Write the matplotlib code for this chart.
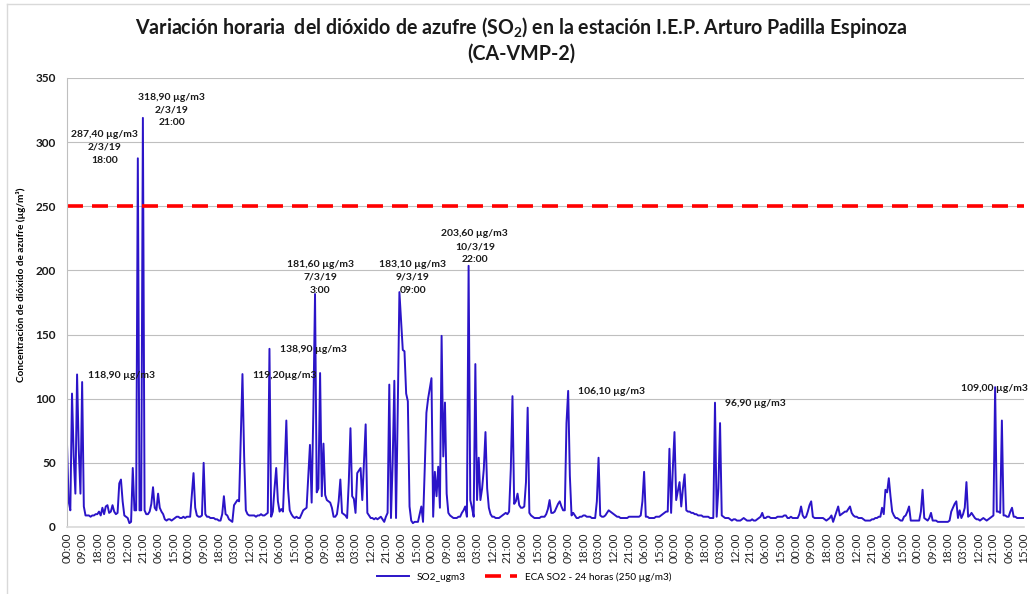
import pandas as pd
import matplotlib
matplotlib.use("Agg")
import matplotlib.pyplot as plt
from matplotlib.lines import Line2D

plt.rcParams['font.family'] = ['Lato', 'DejaVu Sans']
plt.rcParams['mathtext.fontset'] = 'custom'
plt.rcParams['mathtext.rm'] = 'Lato:bold'
plt.rcParams['lines.scale_dashes'] = False

# hourly SO2 (ug/m3), one list per day, 1-24 March 2019
d01 = [66, 20, 13, 104, 55, 26, 118.9, 60, 26, 113, 16, 9, 9, 9, 8, 9, 9, 10, 10, 12, 9, 15, 10, 16]
d02 = [17, 11, 12, 17, 12, 10, 11, 34, 37, 20, 9, 8, 7, 3, 4, 46, 13, 13, 287.4, 13, 13, 318.9, 13, 10]
d03 = [10, 12, 18, 31, 15, 13, 26, 15, 12, 10, 6, 5, 6, 6, 5, 6, 7, 8, 8, 7, 7, 8, 7, 8]
d04 = [8, 8, 25, 42, 15, 9, 8, 8, 9, 50, 10, 8, 8, 7, 7, 7, 6, 6, 5, 5, 10, 24, 10, 9]
d05 = [6, 5, 4, 17, 19, 21, 20, 70, 119.2, 55, 13, 10, 9, 9, 9, 9, 8, 9, 9, 10, 9, 9, 10, 11]
d06 = [138.9, 8, 12, 30, 46, 20, 12, 14, 12, 45, 83, 30, 13, 10, 8, 7, 8, 7, 7, 10, 13, 14, 15, 40]
d07 = [64, 19, 90, 181.6, 27, 30, 120, 24, 65, 25, 21, 20, 19, 15, 8, 8, 10, 20, 37, 11, 10, 9, 7, 35]
d08 = [77, 24, 22, 11, 42, 44, 46, 21, 50, 80, 11, 9, 7, 7, 6, 7, 6, 7, 8, 6, 4, 8, 11, 111]
d09 = [7, 50, 114, 7, 90, 183.1, 160, 138, 137, 104, 98, 16, 5, 3, 4, 4, 4, 10, 16, 4, 45, 89, 100, 108]
d10 = [116, 8, 43, 24, 47, 15, 149, 55, 97, 26, 11, 9, 8, 7, 7, 7, 8, 8, 11, 13, 16, 8, 203.6, 21]
d11 = [15, 8, 127, 21, 54, 21, 30, 45, 74, 30, 15, 10, 8, 8, 7, 7, 7, 8, 9, 10, 11, 10, 12, 45]
d12 = [102, 18, 20, 26, 17, 15, 15, 16, 35, 93, 11, 9, 8, 7, 7, 7, 7, 8, 8, 8, 10, 14, 21, 11]
d13 = [11, 12, 15, 18, 20, 16, 13, 13, 81, 106.1, 40, 9, 11, 9, 7, 7, 8, 8, 9, 9, 8, 8, 8, 7]
d14 = [7, 7, 20, 54, 9, 8, 8, 9, 11, 13, 12, 11, 10, 9, 8, 8, 7, 7, 7, 7, 7, 8, 8, 8]
d15 = [8, 8, 8, 8, 9, 20, 43, 8, 8, 7, 7, 7, 7, 8, 8, 8, 9, 10, 11, 12, 12, 61, 11, 45]
d16 = [74, 21, 28, 35, 16, 30, 41, 13, 12, 12, 11, 11, 10, 10, 9, 9, 9, 8, 8, 8, 8, 7, 7, 7]
d17 = [96.9, 8, 30, 81, 9, 8, 7, 7, 7, 6, 5, 6, 6, 5, 5, 5, 6, 7, 6, 5, 5, 5, 6, 5]
d18 = [5, 6, 7, 8, 11, 7, 7, 8, 8, 7, 7, 7, 7, 8, 8, 8, 8, 9, 9, 7, 7, 8, 7, 7]
d19 = [7, 7, 10, 16, 9, 7, 8, 12, 17, 20, 8, 7, 7, 7, 7, 7, 7, 6, 5, 6, 7, 9, 4, 8]
d20 = [12, 16, 9, 10, 11, 12, 12, 14, 16, 11, 9, 8, 8, 7, 7, 7, 6, 5, 5, 5, 5, 6, 6, 7]
d21 = [7, 8, 8, 15, 10, 29, 27, 38, 24, 12, 9, 7, 7, 6, 5, 5, 8, 9, 12, 16, 5, 5, 5, 5]
d22 = [5, 5, 12, 29, 7, 6, 5, 7, 11, 5, 5, 5, 4, 4, 4, 4, 4, 4, 4, 5, 12, 15, 18, 20]
d23 = [7, 13, 7, 10, 15, 35, 8, 9, 11, 9, 7, 6, 6, 5, 6, 7, 6, 5, 6, 7, 8, 9, 109, 12]
d24 = [12, 11, 83, 9, 9, 8, 8, 12, 15, 8, 8, 7, 7, 7, 7, 7]

so2 = (d01 + d02 + d03 + d04 + d05 + d06 + d07 + d08 + d09 + d10 + d11 + d12
       + d13 + d14 + d15 + d16 + d17 + d18 + d19 + d20 + d21 + d22 + d23 + d24)
times = pd.date_range("2019-03-01 00:00", periods=len(so2), freq="h")
eca_limit = 250

# peak labels: (hour index, value, text, alignment)
notes = [
    (22.5, 296, "287,40 µg/m3\n2/3/19\n18:00", "center"),
    (62.2, 325, "318,90 µg/m3\n2/3/19\n21:00", "center"),
    (12.3, 118, "118,90 µg/m3", "left"),
    (110.0, 118, "119,20µg/m3", "left"),
    (126.2, 138.5, "138,90 µg/m3", "left"),
    (150.2, 194.6, "181,60 µg/m3\n7/3/19\n3:00", "center"),
    (205.0, 194.5, "183,10 µg/m3\n9/3/19\n09:00", "center"),
    (241.7, 218.4, "203,60 µg/m3\n10/3/19\n22:00", "center"),
    (302.9, 105.5, "106,10 µg/m3", "left"),
    (389.8, 96, "96,90 µg/m3", "left"),
    (529.5, 108, "109,00 µg/m3", "left"),
]


def create_graph():
    fig, ax = plt.subplots(figsize=(10.3, 5.94), dpi=100)
    fig.subplots_adjust(left=0.065, right=0.994, bottom=0.1128, top=0.8687)

    x = list(range(len(so2)))
    ax.plot(x, so2, color='#2B14C8', lw=1.4, label='SO2_ugm3')
    ax.plot(x, [eca_limit] * len(x), color='#FF0000', lw=2.6, dashes=(11.5, 6.5),
            label='ECA SO2 - 24 horas (250 µg/m3)')

    ax.set_xlim(0, len(so2) - 1)
    ax.set_ylim(0, 350)
    ax.set_yticks(range(0, 351, 50))
    ax.set_xticks(x[::9])
    ax.set_xticklabels(times[::9].strftime('%H:%M'), rotation=90, fontsize=8.5, color='#262626')
    for lab in ax.get_yticklabels():
        lab.set_fontweight('bold')
        lab.set_fontsize(8.5)
        lab.set_color('#1A1A1A')
    ax.tick_params(axis='y', length=0, pad=8)
    ax.tick_params(axis='x', length=0, pad=4)

    ax.yaxis.grid(True, color='#BFBFBF', lw=0.8)
    ax.set_axisbelow(True)
    for s in ['top', 'right']:
        ax.spines[s].set_visible(False)
    ax.spines['left'].set_color('#BFBFBF')
    ax.spines['bottom'].set_color('#D9D9D9')
    ax.spines['bottom'].set_linewidth(1.2)

    ax.set_ylabel('Concentración de dióxido de azufre (µg/m³)', fontsize=7.2, fontweight='bold')
    ax.yaxis.set_label_coords(-0.043, 0.54)

    for hx, val, txt, ha in notes:
        ax.text(hx, val, txt, ha=ha, va='center', fontsize=7.5, fontweight='bold',
                color='#1A1A1A', linespacing=1.55, clip_on=False)

    fig.text(0.506, 0.9545,
             'Variación horaria  del dióxido de azufre (SO$_\\mathrm{2}$) en la estación I.E.P. Arturo Padilla Espinoza',
             ha='center', va='center', fontsize=14.1, fontweight='bold', color='#1A1A1A')
    fig.text(0.506, 0.909, '(CA-VMP-2)', ha='center', va='center', fontsize=14.1,
             fontweight='bold', color='#1A1A1A')

    fig.legend(loc='center', bbox_to_anchor=(0.509, 0.029), ncol=2, frameon=False,
               fontsize=7.2, handlelength=3.2, columnspacing=2.0)

    # outer chart border (only left and top edges show)
    fig.add_artist(Line2D([7 / 1030, 7 / 1030], [0, 1 - 4 / 594], transform=fig.transFigure,
                          color='#D9D9D9', lw=1))
    fig.add_artist(Line2D([7 / 1030, 1], [1 - 4 / 594, 1 - 4 / 594], transform=fig.transFigure,
                          color='#D9D9D9', lw=1))

    fig.savefig("out.png", dpi=100, facecolor='white')


create_graph()
